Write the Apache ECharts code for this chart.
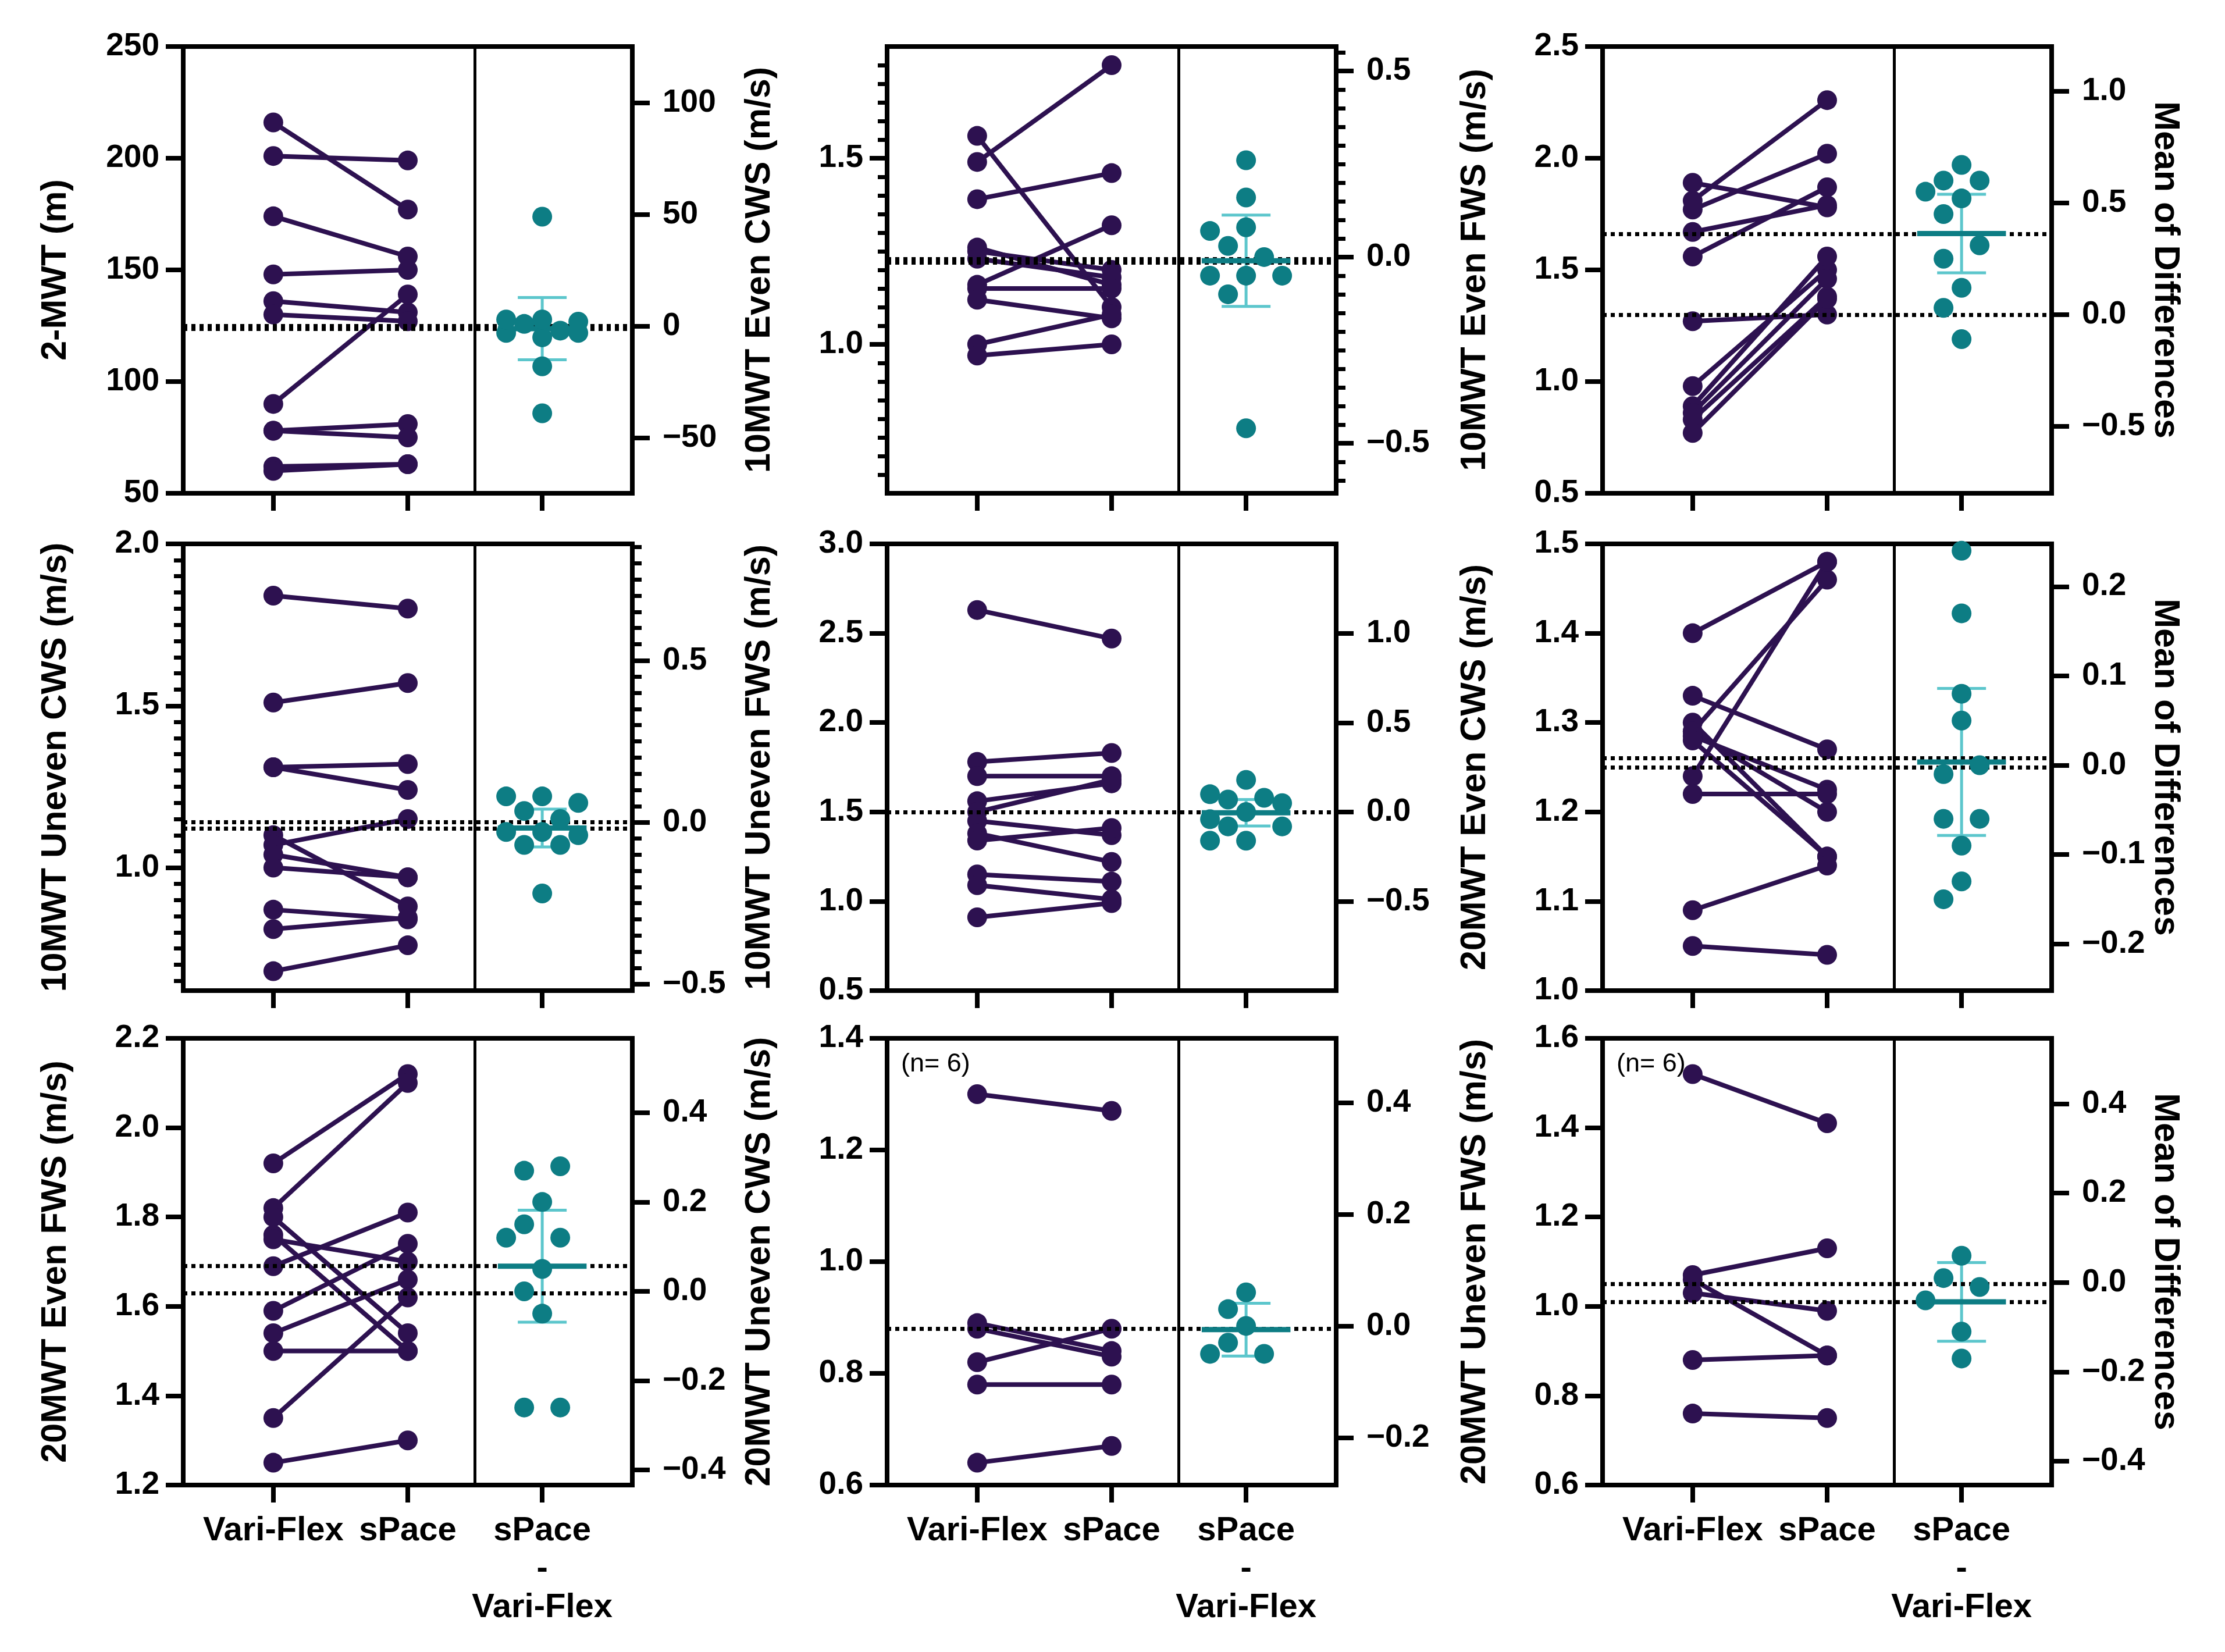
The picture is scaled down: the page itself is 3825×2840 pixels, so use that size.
<!DOCTYPE html>
<html>
<head>
<meta charset="utf-8">
<script src="https://cdn.jsdelivr.net/npm/echarts@6/dist/echarts.min.js"></script>
<style>
  html, body { margin: 0; padding: 0; background: #fff; }
  #main { width: 3825px; height: 2840px; }
</style>
</head>
<body>
<div id="main"></div>
<script>
// paired values (one entry per subject)
const mwt2VariFlex = [216, 201, 174, 148, 136, 130, 90, 78, 78, 62, 60];
const mwt2SPace    = [177, 199, 156, 150, 131, 127, 139, 81, 75, 63, 63];
const evenCws10VariFlex = [1.56, 1.49, 1.39, 1.26, 1.25, 1.23, 1.16, 1.15, 1.12, 1.00, 0.97];
const evenCws10SPace    = [1.10, 1.75, 1.46, 1.16, 1.20, 1.18, 1.32, 1.15, 1.07, 1.08, 1.00];
const evenFws10VariFlex = [1.89, 1.81, 1.77, 1.67, 1.56, 1.27, 0.98, 0.89, 0.86, 0.83, 0.77];
const evenFws10SPace    = [1.78, 2.26, 2.02, 1.79, 1.87, 1.30, 1.50, 1.56, 1.46, 1.38, 1.37];
const unevenCws10VariFlex = [1.84, 1.51, 1.31, 1.31, 1.10, 1.07, 1.04, 1.00, 0.87, 0.81, 0.68];
const unevenCws10SPace    = [1.80, 1.57, 1.32, 1.24, 0.88, 1.15, 0.97, 0.97, 0.84, 0.845, 0.76];
const unevenFws10VariFlex = [2.63, 1.78, 1.70, 1.56, 1.50, 1.45, 1.38, 1.34, 1.15, 1.09, 0.91];
const unevenFws10SPace    = [2.47, 1.83, 1.70, 1.66, 1.68, 1.37, 1.22, 1.41, 1.11, 1.01, 0.99];
const evenCws20VariFlex = [1.40, 1.33, 1.30, 1.29, 1.29, 1.285, 1.28, 1.24, 1.22, 1.09, 1.05];
const evenCws20SPace    = [1.48, 1.27, 1.15, 1.46, 1.20, 1.225, 1.15, 1.48, 1.22, 1.14, 1.04];
const evenFws20VariFlex = [1.92, 1.82, 1.80, 1.76, 1.75, 1.69, 1.59, 1.54, 1.50, 1.35, 1.25];
const evenFws20SPace    = [2.12, 2.10, 1.54, 1.50, 1.70, 1.81, 1.74, 1.66, 1.50, 1.62, 1.30];
const unevenCws20VariFlex = [1.30, 0.89, 0.88, 0.82, 0.78, 0.64];
const unevenCws20SPace    = [1.27, 0.84, 0.83, 0.88, 0.78, 0.67];
const unevenFws20VariFlex = [1.52, 1.07, 1.06, 1.03, 0.88, 0.76];
const unevenFws20SPace    = [1.41, 1.13, 0.89, 0.99, 0.89, 0.75];

const categories = ['Vari-Flex', 'sPace', 'sPace\n-\nVari-Flex'];
const yTitles = ['2-MWT (m)', '10MWT Even CWS (m/s)', '10MWT Even FWS (m/s)',
  '10MWT Uneven CWS (m/s)', '10MWT Uneven FWS (m/s)', '20MWT Even CWS (m/s)',
  '20MWT Even FWS (m/s)', '20MWT Uneven CWS (m/s)', '20MWT Uneven FWS (m/s)'];
const diffTitle = 'Mean of Differences';
const notes = ['', '', '', '', '', '', '', '(n= 6)', '(n= 6)'];

const leftRanges = [[50, 250], [0.6, 1.8], [0.5, 2.5], [0.62, 2.0], [0.5, 3.0], [1.0, 1.5], [1.2, 2.2], [0.6, 1.4], [0.6, 1.6]];
const leftTicks = [[50, 100, 150, 200, 250], [1.0, 1.5], [0.5, 1.0, 1.5, 2.0, 2.5], [1.0, 1.5, 2.0],
  [0.5, 1.0, 1.5, 2.0, 2.5, 3.0], [1.0, 1.1, 1.2, 1.3, 1.4, 1.5], [1.2, 1.4, 1.6, 1.8, 2.0, 2.2],
  [0.6, 0.8, 1.0, 1.2, 1.4], [0.6, 0.8, 1.0, 1.2, 1.4, 1.6]];
const rightTicks = [[-50, 0, 50, 100], [-0.5, 0, 0.5], [-0.5, 0, 0.5, 1.0], [-0.5, 0, 0.5],
  [-1.0, -0.5, 0, 0.5, 1.0], [-0.2, -0.1, 0, 0.1, 0.2], [-0.4, -0.2, 0, 0.2, 0.4],
  [-0.2, 0, 0.2, 0.4], [-0.4, -0.2, 0, 0.2, 0.4]];
const minorSteps = [0, 0.05, 0, 0.05, 0, 0, 0, 0, 0];
const decimals = [0, 1, 1, 1, 1, 1, 1, 1, 1];

const vfData = [mwt2VariFlex, evenCws10VariFlex, evenFws10VariFlex, unevenCws10VariFlex, unevenFws10VariFlex,
  evenCws20VariFlex, evenFws20VariFlex, unevenCws20VariFlex, unevenFws20VariFlex];
const spData = [mwt2SPace, evenCws10SPace, evenFws10SPace, unevenCws10SPace, unevenFws10SPace,
  evenCws20SPace, evenFws20SPace, unevenCws20SPace, unevenFws20SPace];

// layout
const FONT = '"Liberation Sans", Arial, Helvetica, sans-serif';
const PURPLE = '#2d1150';
const TEAL = '#0d7d84';
const TEAL_LIGHT = '#5cc6cc';
const colLeft = [315, 1525, 2755];
const rowTop = [80, 935, 1785];
const gridW = 772, gridH = 768;
const xMin = -0.67, xMax = 2.67;
const DOT = 34;
const TICK = 30;

const tCrit = {5: 2.571, 10: 2.228};
const mean = a => a.reduce((s, v) => s + v, 0) / a.length;

function fmt(v, d) {
  const s = Math.abs(v).toFixed(d);
  return (v < -1e-9 ? '\u2212' : '') + s;
}

function minorValues(min, max, step, majors) {
  if (!step) return [];
  const out = [];
  for (let k = Math.ceil(min / step - 1e-6); k * step <= max + 1e-9; k++) {
    const v = +(k * step).toFixed(4);
    if (v <= min + 1e-6 || v >= max - 1e-6) continue;
    if (majors.some(m => Math.abs(m - v) < 1e-6)) continue;
    out.push(v);
  }
  return out;
}

// compact beeswarm: a few lattice slots, least overlap wins, then centre each cluster
function swarm(vals, pxY, pxX) {
  const step = 31, gap = 40;
  const slots = [0, -step, step, -2 * step, 2 * step];
  const order = vals.map((v, i) => i).sort((a, b) => vals[b] - vals[a]);
  const pos = new Array(vals.length);
  const placed = [];
  order.forEach(i => {
    const y = vals[i] * pxY;
    let best = 0, bestPen = Infinity;
    for (const off of slots) {
      let pen = 0;
      placed.forEach(p => {
        const dist = Math.sqrt((p.x - off) ** 2 + (p.y - y) ** 2);
        if (dist < gap) pen += gap - dist;
      });
      if (pen < bestPen - 1e-9) { bestPen = pen; best = off; }
      if (pen === 0) break;
    }
    placed.push({i, x: best, y});
    pos[i] = best;
  });
  const sorted = placed.slice().sort((a, b) => b.y - a.y);
  const groups = [];
  let group = [sorted[0]];
  for (let j = 1; j < sorted.length; j++) {
    if (Math.abs(sorted[j].y - sorted[j - 1].y) < gap) group.push(sorted[j]);
    else { groups.push(group); group = [sorted[j]]; }
  }
  groups.push(group);
  groups.forEach(g => {
    const m = mean(g.map(p => p.x));
    const shift = -Math.round(m / step) * step;
    g.forEach(p => { pos[p.i] += shift; });
  });
  return pos.map(p => p / pxX);
}

const grids = [], xAxes = [], yAxes = [], series = [], graphics = [];
const tickStyle = w => ({color: '#000', width: w});
const labelStyle = (size, margin) => ({fontFamily: FONT, fontSize: size, fontWeight: 'bold', color: '#000', margin});

vfData.forEach((vf, p) => {
  const sp = spData[p];
  const col = p % 3, row = Math.floor(p / 3);
  const left = colLeft[col], top = rowTop[row];
  const [yMin, yMax] = leftRanges[p];
  const meanVF = mean(vf), meanSP = mean(sp);
  const diffs = sp.map((s, i) => s - vf[i]);
  const mD = mean(diffs);
  const sd = Math.sqrt(diffs.reduce((s, d) => s + (d - mD) ** 2, 0) / (diffs.length - 1));
  const half = tCrit[diffs.length - 1] * sd / Math.sqrt(diffs.length);
  const rMin = yMin - meanVF, rMax = yMax - meanVF;
  const d = decimals[p];

  grids.push({left, top, width: gridW, height: gridH, show: true,
    borderColor: '#000', borderWidth: 8, backgroundColor: 'transparent'});

  xAxes.push({
    gridIndex: p, type: 'value', min: xMin, max: xMax,
    axisLine: {show: false, onZero: false}, splitLine: {show: false},
    axisTick: {show: true, customValues: [0, 1, 2], length: TICK, lineStyle: tickStyle(8)},
    axisLabel: Object.assign(labelStyle(58, TICK + 16), {
      show: row === 2, customValues: [0, 1, 2], lineHeight: 66,
      formatter: v => categories[Math.round(v)]})
  });

  const base = yAxes.length;
  const leftMinor = minorValues(yMin, yMax, minorSteps[p], leftTicks[p]);
  const rightMinor = minorValues(rMin, rMax, minorSteps[p], rightTicks[p]);
  yAxes.push({
    gridIndex: p, type: 'value', position: 'left', min: yMin, max: yMax,
    name: yTitles[p], nameLocation: 'middle', nameGap: 188,
    nameTextStyle: {fontFamily: FONT, fontSize: 61, fontWeight: 'bold', color: '#000'},
    axisLine: {show: false, onZero: false}, splitLine: {show: false},
    axisTick: {show: true, customValues: leftTicks[p], length: TICK, lineStyle: tickStyle(8)},
    axisLabel: Object.assign(labelStyle(55, TICK + 11), {customValues: leftTicks[p], formatter: v => fmt(v, d)})
  });
  yAxes.push({
    gridIndex: p, type: 'value', position: 'left', min: yMin, max: yMax,
    axisLine: {show: false, onZero: false}, splitLine: {show: false}, axisLabel: {show: false},
    axisTick: {show: leftMinor.length > 0, customValues: leftMinor, length: 16, lineStyle: tickStyle(7)}
  });
  yAxes.push({
    gridIndex: p, type: 'value', position: 'right', min: rMin, max: rMax,
    name: col === 2 ? diffTitle : '', nameLocation: 'middle', nameGap: 160, nameRotate: -90,
    nameTextStyle: {fontFamily: FONT, fontSize: 61, fontWeight: 'bold', color: '#000'},
    axisLine: {show: false, onZero: false}, splitLine: {show: false},
    axisTick: {show: true, customValues: rightTicks[p], length: TICK, lineStyle: tickStyle(8)},
    axisLabel: Object.assign(labelStyle(55, TICK + 22), {customValues: rightTicks[p], formatter: v => fmt(v, d)})
  });
  yAxes.push({
    gridIndex: p, type: 'value', position: 'right', min: rMin, max: rMax,
    axisLine: {show: false, onZero: false}, splitLine: {show: false}, axisLabel: {show: false},
    axisTick: {show: rightMinor.length > 0, customValues: rightMinor, length: 16, lineStyle: tickStyle(7)}
  });

  // paired lines, with the two group means and the panel divider as mark lines
  vf.forEach((v, i) => {
    const s = {
      type: 'line', xAxisIndex: p, yAxisIndex: base, data: [[0, v], [1, sp[i]]],
      showSymbol: false, silent: true, z: 2,
      lineStyle: {color: PURPLE, width: 8}
    };
    if (i === 0) {
      s.markLine = {
        symbol: 'none', silent: true, animation: false, label: {show: false},
        lineStyle: {color: '#000', width: 7, type: [7, 7]},
        data: [{yAxis: meanVF}, {yAxis: meanSP},
          {xAxis: 1.5, lineStyle: {color: '#000', width: 5, type: 'solid'}}]
      };
    }
    series.push(s);
  });
  series.push({
    type: 'scatter', xAxisIndex: p, yAxisIndex: base, z: 3, silent: true,
    data: vf.map(v => [0, v]).concat(sp.map(v => [1, v])),
    symbolSize: DOT, itemStyle: {color: PURPLE, opacity: 1}
  });

  // differences: 95% CI, mean, individual points
  const pxY = gridH / (yMax - yMin), pxX = gridW / (xMax - xMin);
  const offs = swarm(diffs, pxY, pxX);
  series.push({
    type: 'custom', xAxisIndex: p, yAxisIndex: base + 2, z: 4, silent: true,
    data: [[2, mD - half, mD + half]],
    encode: {x: 0, y: [1, 2]},
    renderItem: (params, api) => {
      const a = api.coord([api.value(0), api.value(1)]);
      const b = api.coord([api.value(0), api.value(2)]);
      const cap = 42;
      const st = {stroke: TEAL_LIGHT, lineWidth: 5};
      return {type: 'group', children: [
        {type: 'line', shape: {x1: a[0], y1: a[1], x2: b[0], y2: b[1]}, style: st},
        {type: 'line', shape: {x1: a[0] - cap, y1: a[1], x2: a[0] + cap, y2: a[1]}, style: st},
        {type: 'line', shape: {x1: b[0] - cap, y1: b[1], x2: b[0] + cap, y2: b[1]}, style: st}
      ]};
    }
  });
  series.push({
    type: 'line', xAxisIndex: p, yAxisIndex: base + 2, z: 5, silent: true,
    data: [[2 - 0.33, mD], [2 + 0.33, mD]], showSymbol: false,
    lineStyle: {color: TEAL, width: 9}
  });
  series.push({
    type: 'scatter', xAxisIndex: p, yAxisIndex: base + 2, z: 6, silent: true,
    data: diffs.map((v, i) => [2 + offs[i], v]),
    symbolSize: DOT, itemStyle: {color: TEAL, opacity: 1}
  });

  if (notes[p]) {
    graphics.push({type: 'text', left: left + 24, top: top + 22, z: 10,
      style: {text: notes[p], fontFamily: FONT, fontSize: 45, fill: '#000'}});
  }
});

const chart = echarts.init(document.getElementById('main'));
chart.setOption({
  animation: false,
  backgroundColor: '#fff',
  grid: grids,
  xAxis: xAxes,
  yAxis: yAxes,
  series: series,
  graphic: graphics
});
</script>
</body>
</html>
